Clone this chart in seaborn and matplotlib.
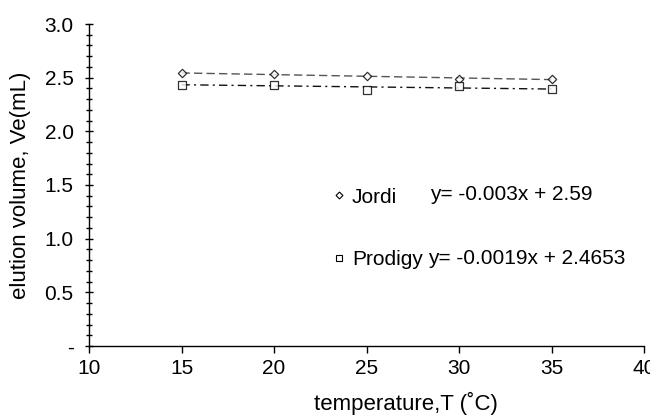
import matplotlib
matplotlib.use("Agg")
import matplotlib.pyplot as plt
from matplotlib.lines import Line2D
from matplotlib.ticker import MultipleLocator
import seaborn as sns
import numpy as np

# ---- data ----
temperature = [15, 20, 25, 30, 35]
jordi = [2.54, 2.535, 2.515, 2.49, 2.485]
prodigy = [2.435, 2.435, 2.385, 2.425, 2.39]
series_names = ["Jordi", "Prodigy"]
equations = ["y= -0.003x + 2.59", "y= -0.0019x + 2.4653"]
xticks = [10, 15, 20, 25, 30, 35, 40]
yticks = [0.0, 0.5, 1.0, 1.5, 2.0, 2.5, 3.0]
ytick_labels = ["-", "0.5", "1.0", "1.5", "2.0", "2.5", "3.0"]

sns.set_theme(style="ticks")
plt.rcParams["font.family"] = ["Liberation Sans", "DejaVu Sans"]

FS = 15
FT = 16

fig = plt.figure(figsize=(6.5, 4.16), dpi=100)
ax = fig.add_axes([89 / 650, 1 - 346 / 416, 555 / 650, 322 / 416])

sns.regplot(x=temperature, y=jordi, ci=None, ax=ax, marker="D",
            scatter_kws=dict(s=18, facecolors="white", edgecolors="black", linewidths=0.9, zorder=3),
            line_kws=dict(color="#555555", lw=1.0, ls=(0, (6, 3))))
sns.regplot(x=temperature, y=prodigy, ci=None, ax=ax, marker="s",
            scatter_kws=dict(s=30, facecolors="white", edgecolors="black", linewidths=0.9, zorder=3),
            line_kws=dict(color="#111111", lw=1.0, ls=(0, (6, 3, 1.5, 3))))

ax.set_xlim(10, 40)
ax.set_ylim(0, 3.0)
ax.set_xticks(xticks)
ax.set_yticks(yticks)
ax.set_yticklabels(ytick_labels)
ax.yaxis.set_minor_locator(MultipleLocator(0.1))
sns.despine(ax=ax)
for s in ["left", "bottom"]:
    ax.spines[s].set_color("black")
    ax.spines[s].set_linewidth(1.0)

ax.tick_params(axis="y", which="major", direction="inout", length=6, width=1, color="black",
               labelsize=FS, pad=8, labelcolor="black")
ax.tick_params(axis="y", which="minor", direction="inout", length=5, width=1, color="black")
ax.tick_params(axis="x", which="major", direction="out", length=5, width=1, color="black",
               labelsize=FS, pad=4, labelcolor="black")

ax.set_xlabel("temperature,T (\u02daC)", fontsize=FT, color="black")
ax.set_ylabel("elution volume, Ve(mL)", fontsize=FT, color="black", labelpad=10)
ax.xaxis.set_label_coords(0.571, -0.143)

handles = [
    Line2D([], [], marker="D", ls="none", mfc="white", mec="black", ms=3.5, mew=0.8),
    Line2D([], [], marker="s", ls="none", mfc="white", mec="black", ms=5, mew=0.8),
]
leg = ax.legend(handles, series_names, loc="center left", bbox_to_anchor=(0.44, 0.365),
                frameon=False, fontsize=FS, handlelength=0.6, handletextpad=0.3,
                labelspacing=2.1, borderpad=0, borderaxespad=0)
for t in leg.get_texts():
    t.set_color("black")

ax.text(0.614, 0.47, equations[0], transform=ax.transAxes, va="center", ha="left",
        fontsize=FS, color="black")
ax.text(0.611, 0.272, equations[1], transform=ax.transAxes, va="center", ha="left",
        fontsize=FS, color="black")

fig.savefig("out.png", dpi=100)
